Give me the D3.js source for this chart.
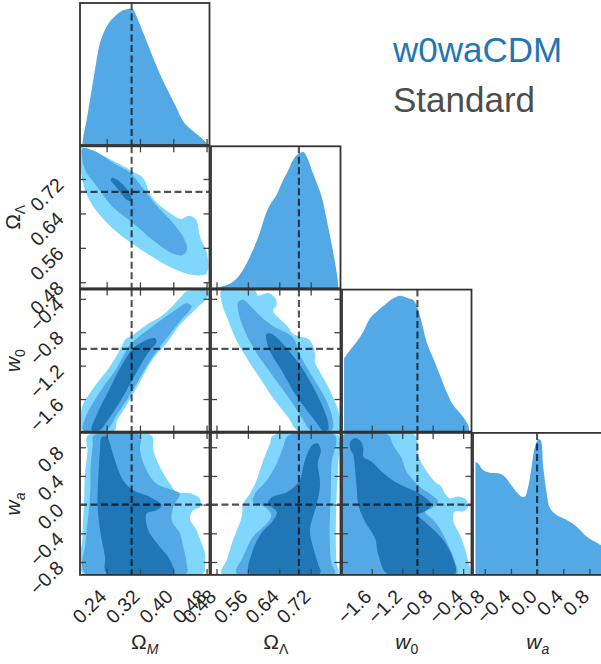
<!DOCTYPE html>
<html>
<head>
<meta charset="utf-8">
<script src="https://cdn.jsdelivr.net/npm/d3@7"></script>
<style>
    body { margin: 0; background: #fff; }
    svg  { display: block; font-family: "Liberation Sans", Arial, sans-serif; }
</style>
</head>
<body>
<svg id="chart" width="601" height="664"></svg>
<script>
'use strict';

/*==============================
=            Data              =
==============================*/

var paramExtents = [[0.176, 0.487], [0.466, 0.796], [-1.99, -0.29], [-0.98, 1.0]];
var truthValues  = [0.30, 0.69, -1.0, 0.0];

var omegaMTicks = [0.24, 0.32, 0.40, 0.48];
var omegaLTicks = [0.48, 0.56, 0.64, 0.72];
var w0Ticks     = [-1.6, -1.2, -0.8, -0.4];
var waTicks     = [-0.8, -0.4, 0.0, 0.4, 0.8];

var legendNames = ["w0waCDM", "Standard"];

// 1D marginals (peak normalised to 1)
var omegaMGrid    = [0.182, 0.184, 0.192, 0.200, 0.208, 0.216, 0.224, 0.236, 0.248, 0.264, 0.280, 0.296, 0.304, 0.312, 0.328, 0.344, 0.360, 0.376, 0.392, 0.408, 0.424, 0.448, 0.472, 0.484];
var omegaMDensity = [0, 0.063, 0.185, 0.332, 0.478, 0.625, 0.747, 0.844, 0.905, 0.954, 0.986, 0.998, 0.991, 0.942, 0.820, 0.698, 0.576, 0.466, 0.368, 0.271, 0.173, 0.100, 0.039, 0];

var omegaLGrid    = [0.478, 0.506, 0.522, 0.539, 0.557, 0.573, 0.590, 0.603, 0.616, 0.633, 0.646, 0.663, 0.675, 0.688, 0.701, 0.710, 0.726, 0.748, 0.761, 0.773, 0.784, 0.789, 0.791];
var omegaLDensity = [0, 0.024, 0.048, 0.097, 0.183, 0.281, 0.403, 0.524, 0.610, 0.683, 0.769, 0.866, 0.940, 0.984, 0.998, 0.964, 0.842, 0.671, 0.500, 0.330, 0.158, 0.061, 0];

var w0Grid    = [-1.963, -1.884, -1.797, -1.710, -1.622, -1.535, -1.404, -1.317, -1.229, -1.142, -1.055, -1.003, -0.945, -0.880, -0.793, -0.705, -0.618, -0.531, -0.421, -0.335, -0.321];
var w0Density = [0.537, 0.598, 0.658, 0.732, 0.830, 0.878, 0.940, 0.976, 0.995, 0.981, 0.964, 0.915, 0.805, 0.658, 0.537, 0.415, 0.292, 0.195, 0.122, 0.048, 0];

var waGrid    = [-0.943, -0.903, -0.826, -0.723, -0.596, -0.493, -0.417, -0.340, -0.237, -0.186, -0.136, -0.084, -0.033, 0.018, 0.054, 0.094, 0.147, 0.197, 0.300, 0.453, 0.607, 0.760, 0.887, 1.0];
var waDensity = [0.829, 0.817, 0.768, 0.749, 0.744, 0.719, 0.671, 0.622, 0.573, 0.573, 0.646, 0.792, 0.939, 0.993, 0.988, 0.792, 0.598, 0.488, 0.439, 0.402, 0.353, 0.280, 0.243, 0.21];

// 2D contours: outer / middle / inner levels
var omOlLight = [[0.178,0.793],[0.224,0.777],[0.272,0.754],[0.303,0.737],[0.325,0.725],[0.335,0.709],[0.342,0.688],[0.361,0.664],[0.392,0.641],[0.419,0.627],[0.431,0.633],[0.445,0.633],[0.457,0.622],[0.461,0.601],[0.467,0.578],[0.479,0.554],[0.484,0.517],[0.479,0.500],[0.464,0.496],[0.433,0.500],[0.385,0.519],[0.337,0.547],[0.289,0.578],[0.241,0.618],[0.205,0.660],[0.186,0.700],[0.176,0.754],[0.176,0.784]];
var omOlMid   = [[0.183,0.791],[0.217,0.782],[0.255,0.758],[0.296,0.735],[0.320,0.707],[0.361,0.657],[0.399,0.618],[0.423,0.587],[0.433,0.557],[0.421,0.543],[0.392,0.550],[0.351,0.578],[0.303,0.618],[0.255,0.655],[0.217,0.702],[0.188,0.742],[0.181,0.772]];
var omOlDark  = [[0.253,0.723],[0.265,0.718],[0.282,0.704],[0.296,0.686],[0.299,0.669],[0.289,0.671],[0.272,0.690],[0.258,0.707],[0.250,0.716]];

var omW0Light = [[0.180,-1.972],[0.180,-1.712],[0.208,-1.472],[0.248,-1.212],[0.276,-0.972],[0.284,-0.892],[0.304,-0.832],[0.336,-0.712],[0.376,-0.592],[0.416,-0.392],[0.432,-0.312],[0.484,-0.312],[0.484,-0.372],[0.456,-0.512],[0.416,-0.712],[0.384,-0.932],[0.352,-1.112],[0.320,-1.392],[0.288,-1.672],[0.264,-1.872],[0.260,-1.972]];
var omW0Mid   = [[0.184,-1.972],[0.188,-1.832],[0.224,-1.512],[0.264,-1.232],[0.288,-1.012],[0.304,-0.912],[0.344,-0.752],[0.400,-0.552],[0.432,-0.452],[0.444,-0.492],[0.416,-0.672],[0.384,-0.872],[0.360,-1.032],[0.328,-1.272],[0.296,-1.552],[0.264,-1.792],[0.240,-1.972]];
var omW0Dark  = [[0.204,-1.972],[0.216,-1.792],[0.248,-1.472],[0.272,-1.232],[0.304,-0.992],[0.336,-0.892],[0.356,-0.872],[0.360,-0.912],[0.336,-1.072],[0.304,-1.352],[0.272,-1.632],[0.240,-1.872],[0.224,-1.972]];

var olW0Light = [[0.493,-0.300],[0.578,-0.300],[0.586,-0.360],[0.612,-0.332],[0.631,-0.400],[0.633,-0.480],[0.624,-0.540],[0.641,-0.640],[0.663,-0.740],[0.675,-0.820],[0.692,-0.852],[0.714,-0.880],[0.726,-0.960],[0.731,-1.060],[0.731,-1.160],[0.744,-1.280],[0.761,-1.420],[0.777,-1.580],[0.790,-1.740],[0.795,-1.980],[0.688,-1.980],[0.663,-1.820],[0.629,-1.620],[0.595,-1.380],[0.561,-1.140],[0.531,-0.900],[0.510,-0.660],[0.494,-0.460]];
var olW0Mid   = [[0.535,-0.440],[0.548,-0.412],[0.569,-0.500],[0.595,-0.620],[0.629,-0.740],[0.663,-0.820],[0.680,-0.900],[0.688,-1.020],[0.705,-1.180],[0.731,-1.380],[0.756,-1.580],[0.773,-1.780],[0.777,-1.940],[0.769,-1.980],[0.722,-1.980],[0.697,-1.820],[0.663,-1.580],[0.620,-1.300],[0.578,-1.020],[0.548,-0.740],[0.535,-0.540]];
var olW0Dark  = [[0.608,-0.820],[0.620,-0.820],[0.641,-0.900],[0.671,-1.060],[0.697,-1.220],[0.722,-1.420],[0.744,-1.620],[0.761,-1.820],[0.765,-1.960],[0.752,-1.980],[0.731,-1.860],[0.705,-1.700],[0.675,-1.500],[0.646,-1.260],[0.620,-1.060],[0.608,-0.920]];

var omWaLight = [[0.194,0.962],[0.348,0.962],[0.352,0.754],[0.368,0.522],[0.392,0.292],[0.408,0.176],[0.444,0.153],[0.464,0.084],[0.464,-0.033],[0.448,-0.079],[0.440,-0.194],[0.456,-0.356],[0.468,-0.541],[0.476,-0.679],[0.476,-0.818],[0.472,-0.957],[0.182,-0.957],[0.182,-0.449],[0.186,0.106],[0.188,0.431],[0.194,0.754]];
var omWaMid   = [[0.208,0.962],[0.320,0.962],[0.320,0.754],[0.336,0.476],[0.360,0.292],[0.400,0.199],[0.416,0.153],[0.400,-0.033],[0.396,-0.217],[0.416,-0.402],[0.424,-0.588],[0.432,-0.818],[0.432,-0.957],[0.188,-0.957],[0.190,-0.495],[0.200,0.106],[0.202,0.570],[0.207,0.847]];
var omWaDark  = [[0.228,0.939],[0.240,0.948],[0.248,0.847],[0.260,0.615],[0.280,0.338],[0.304,0.199],[0.344,0.106],[0.372,-0.009],[0.360,-0.079],[0.336,-0.124],[0.340,-0.356],[0.368,-0.588],[0.392,-0.772],[0.400,-0.957],[0.240,-0.957],[0.236,-0.726],[0.224,-0.356],[0.218,0.015],[0.220,0.384],[0.224,0.754]];

var olWaLight = [[0.624,0.962],[0.790,0.962],[0.790,0.570],[0.786,0.106],[0.784,-0.356],[0.786,-0.818],[0.790,-0.957],[0.493,-0.957],[0.506,-0.772],[0.522,-0.495],[0.544,-0.171],[0.548,0.015],[0.565,0.153],[0.582,0.338],[0.599,0.615],[0.616,0.847]];
var olWaMid   = [[0.663,0.962],[0.782,0.962],[0.773,0.570],[0.771,0.106],[0.768,-0.356],[0.773,-0.818],[0.782,-0.957],[0.531,-0.957],[0.548,-0.726],[0.573,-0.449],[0.608,-0.263],[0.620,-0.148],[0.603,-0.033],[0.573,0.037],[0.578,0.153],[0.608,0.338],[0.633,0.570],[0.650,0.800]];
var olWaDark  = [[0.565,-0.957],[0.573,-0.634],[0.596,-0.384],[0.621,-0.245],[0.634,-0.106],[0.611,0.019],[0.621,0.102],[0.659,0.171],[0.692,0.338],[0.703,0.574],[0.715,0.754],[0.726,0.837],[0.738,0.851],[0.746,0.754],[0.738,0.574],[0.744,0.296],[0.736,0.019],[0.718,-0.356],[0.726,-0.592],[0.738,-0.814],[0.744,-0.957]];

var w0WaLight = [[-1.033,0.967],[-0.990,0.689],[-0.902,0.504],[-0.771,0.320],[-0.683,0.250],[-0.640,0.158],[-0.574,0.088],[-0.466,0.112],[-0.355,0.065],[-0.335,-0.027],[-0.400,-0.096],[-0.509,-0.096],[-0.531,-0.213],[-0.443,-0.421],[-0.378,-0.606],[-0.335,-0.790],[-0.312,-0.976],[-1.972,-0.976],[-1.972,0.967]];
var w0WaMid   = [[-1.972,0.967],[-1.383,0.967],[-1.317,0.828],[-1.207,0.643],[-1.142,0.459],[-1.033,0.320],[-0.945,0.227],[-0.814,0.134],[-0.728,0.042],[-0.814,-0.051],[-0.902,-0.096],[-0.771,-0.235],[-0.683,-0.374],[-0.597,-0.560],[-0.509,-0.790],[-0.487,-0.976],[-1.972,-0.976]];
var w0WaDark  = [[-1.884,0.875],[-1.819,0.930],[-1.753,0.897],[-1.710,0.782],[-1.710,0.667],[-1.600,0.597],[-1.469,0.459],[-1.295,0.320],[-1.121,0.227],[-0.945,0.134],[-0.814,-0.005],[-0.902,-0.096],[-0.990,-0.144],[-0.859,-0.282],[-0.683,-0.467],[-0.552,-0.699],[-0.509,-0.976],[-1.383,-0.976],[-1.514,-0.699],[-1.557,-0.467],[-1.688,-0.235],[-1.776,-0.005],[-1.797,0.227],[-1.819,0.504],[-1.841,0.689],[-1.884,0.782]];

/*=====  End of Data  ======*/

var levelColors = ["#80d7fe", "#52a9e5", "#2077b5"];
var margColor   = "#52a9e5";
var truthColor  = "rgba(0,0,0,0.68)";
var frameColor  = "#333";
var tickColor   = "#444";
var textColor   = "#262626";

var colLeft  = [80, 211, 342, 473],  colWidth  = 129.5;
var rowTop   = [3, 146.3, 289.6, 432.9], rowHeight = 142;
var tickLen  = 6;

var allTicks  = [omegaMTicks, omegaLTicks, w0Ticks, waTicks];
var tickFmts  = [d3.format(".2f"), d3.format(".2f"), d3.format(".1f"), d3.format(".1f")];

var xScales = paramExtents.map(function (ext, i) {
    return d3.scaleLinear().domain(ext).range([colLeft[i], colLeft[i] + colWidth]);
});
var yScales = paramExtents.map(function (ext, i) {
    return d3.scaleLinear().domain(ext).range([rowTop[i] + rowHeight, rowTop[i]]);
});

var svg  = d3.select("#chart");
var defs = svg.append("defs");

var contourPanels = [
    { row: 1, col: 0, levels: [omOlLight, omOlMid, omOlDark] },
    { row: 2, col: 0, levels: [omW0Light, omW0Mid, omW0Dark] },
    { row: 2, col: 1, levels: [olW0Light, olW0Mid, olW0Dark] },
    { row: 3, col: 0, levels: [omWaLight, omWaMid, omWaDark] },
    { row: 3, col: 1, levels: [olWaLight, olWaMid, olWaDark] },
    { row: 3, col: 2, levels: [w0WaLight, w0WaMid, w0WaDark] }
];
var marginals = [
    { idx: 0, grid: omegaMGrid, dens: omegaMDensity },
    { idx: 1, grid: omegaLGrid, dens: omegaLDensity },
    { idx: 2, grid: w0Grid,     dens: w0Density },
    { idx: 3, grid: waGrid,     dens: waDensity }
];

function panelGroup(r, c) {
    var id = "clip-" + r + "-" + c;
    defs.append("clipPath").attr("id", id)
        .append("rect")
            .attr("x", colLeft[c]).attr("y", rowTop[r])
            .attr("width", colWidth).attr("height", rowHeight);
    var g = svg.append("g").attr("class", "panel");
    var inner = g.append("g").attr("clip-path", "url(#" + id + ")");
    return { g: g, inner: inner };
}

function styleAxis(sel) {
    sel.select(".domain").remove();
    sel.selectAll(".tick line").attr("stroke", tickColor).attr("stroke-width", 1.3);
}

function drawFrame(g, r, c) {
    g.append("rect")
        .attr("x", colLeft[c]).attr("y", rowTop[r])
        .attr("width", colWidth).attr("height", rowHeight)
        .attr("fill", "none").attr("stroke", frameColor).attr("stroke-width", 1.8);
}

function truthLine(g, orient, value, scale, r, c) {
    var line = g.append("line")
        .attr("stroke", truthColor).attr("stroke-width", 2.1)
        .attr("stroke-dasharray", "7,3.5");
    if (orient === "v") {
        line.attr("x1", scale(value)).attr("x2", scale(value))
            .attr("y1", rowTop[r]).attr("y2", rowTop[r] + rowHeight);
    } else {
        line.attr("y1", scale(value)).attr("y2", scale(value))
            .attr("x1", colLeft[c]).attr("x2", colLeft[c] + colWidth);
    }
}

/*======================================
=            2D contour panels         =
======================================*/
var contourPath = d3.line().curve(d3.curveCatmullRomClosed.alpha(0.5));

contourPanels.forEach(function (p) {
    var xs = xScales[p.col], ys = yScales[p.row];
    var pg = panelGroup(p.row, p.col);
    p.levels.forEach(function (poly, k) {
        pg.inner.append("path")
            .attr("d", contourPath(poly.map(function (d) { return [xs(d[0]), ys(d[1])]; })))
            .attr("fill", levelColors[k]);
    });
    truthLine(pg.inner, "v", truthValues[p.col], xs, p.row, p.col);
    truthLine(pg.inner, "h", truthValues[p.row], ys, p.row, p.col);

    var bottom = rowTop[p.row] + rowHeight, right = colLeft[p.col] + colWidth;
    pg.g.append("g").attr("transform", "translate(0," + bottom + ")")
        .call(d3.axisBottom(xs).tickValues(allTicks[p.col]).tickSize(-tickLen).tickFormat("")).call(styleAxis);
    pg.g.append("g").attr("transform", "translate(0," + rowTop[p.row] + ")")
        .call(d3.axisTop(xs).tickValues(allTicks[p.col]).tickSize(-tickLen).tickFormat("")).call(styleAxis);
    pg.g.append("g").attr("transform", "translate(" + colLeft[p.col] + ",0)")
        .call(d3.axisLeft(ys).tickValues(allTicks[p.row]).tickSize(-tickLen).tickFormat("")).call(styleAxis);
    pg.g.append("g").attr("transform", "translate(" + right + ",0)")
        .call(d3.axisRight(ys).tickValues(allTicks[p.row]).tickSize(-tickLen).tickFormat("")).call(styleAxis);
    drawFrame(pg.g, p.row, p.col);
});

/*======================================
=            1D marginals              =
======================================*/
marginals.forEach(function (m) {
    var i = m.idx;
    var xs = xScales[i];
    var ys = d3.scaleLinear().domain([0, 1.04]).range([rowTop[i] + rowHeight, rowTop[i]]);
    var pts = m.grid.map(function (g, k) { return [g, m.dens[k]]; });
    var area = d3.area()
        .x(function (d) { return xs(d[0]); })
        .y0(ys(0))
        .y1(function (d) { return ys(d[1]); })
        .curve(d3.curveCatmullRom.alpha(0.5));
    var pg = panelGroup(i, i);
    pg.inner.append("path").attr("d", area(pts)).attr("fill", margColor);
    truthLine(pg.inner, "v", truthValues[i], xs, i, i);
    pg.g.append("g").attr("transform", "translate(0," + (rowTop[i] + rowHeight) + ")")
        .call(d3.axisBottom(xs).tickValues(allTicks[i]).tickSize(-tickLen).tickFormat("")).call(styleAxis);
    drawFrame(pg.g, i, i);
});

/*======================================
=            Tick labels               =
======================================*/
var labels = svg.append("g")
    .attr("font-size", 19.5).attr("fill", textColor);

var axisBottomY = rowTop[3] + rowHeight;
allTicks.forEach(function (ticks, c) {
    ticks.forEach(function (t) {
        labels.append("text")
            .attr("text-anchor", "end")
            .attr("transform", "translate(" + (xScales[c](t) + 1) + "," + (axisBottomY + 23) + ") rotate(-45)")
            .text(tickFmts[c](t));
    });
});
[1, 2, 3].forEach(function (r) {
    allTicks[r].forEach(function (t) {
        labels.append("text")
            .attr("text-anchor", "end")
            .attr("transform", "translate(" + (colLeft[0] - 15) + "," + (yScales[r](t) + 7) + ") rotate(-45)")
            .text(tickFmts[r](t));
    });
});

/*======================================
=            Axis titles               =
======================================*/
var titleParts = [
    { main: "\u03A9", mainItalic: false, sub: "M", subItalic: true },
    { main: "\u03A9", mainItalic: false, sub: "\u039B", subItalic: false },
    { main: "w",      mainItalic: true,  sub: "0", subItalic: false },
    { main: "w",      mainItalic: true,  sub: "a", subItalic: true }
];

function writeTitle(text, part) {
    text.append("tspan")
        .attr("font-style", part.mainItalic ? "italic" : "normal")
        .text(part.main);
    text.append("tspan")
        .attr("dy", 5).attr("font-size", 14)
        .attr("font-style", part.subItalic ? "italic" : "normal")
        .text(part.sub);
}

titleParts.forEach(function (part, c) {
    var t = svg.append("text")
        .attr("x", colLeft[c] + colWidth / 2).attr("y", 649)
        .attr("text-anchor", "middle").attr("font-size", 21).attr("fill", textColor);
    writeTitle(t, part);
});
[1, 2, 3].forEach(function (r) {
    var t = svg.append("text")
        .attr("transform", "translate(20," + (rowTop[r] + rowHeight / 2) + ") rotate(-90)")
        .attr("text-anchor", "middle").attr("font-size", 21).attr("fill", textColor);
    writeTitle(t, titleParts[r]);
});

/*======================================
=            Legend                    =
======================================*/
svg.append("text")
    .attr("x", 393).attr("y", 62)
    .attr("font-size", 35).attr("fill", "#1f77b4")
    .text(legendNames[0]);
svg.append("text")
    .attr("x", 393).attr("y", 112)
    .attr("font-size", 35).attr("fill", "#4d4d4d")
    .text(legendNames[1]);
</script>
</body>
</html>
